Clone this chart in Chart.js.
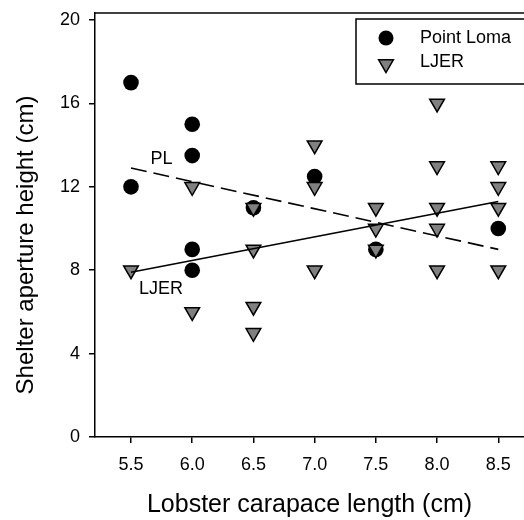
<!DOCTYPE html>
<html>
<head>
<meta charset="utf-8">
<script src="https://cdn.jsdelivr.net/npm/chart.js@4.4.1/dist/chart.umd.min.js"></script>
<style>
  html, body { margin: 0; padding: 0; background: #fff; overflow: hidden; }
  canvas { display: block; }
</style>
</head>
<body>
<!-- a bit wider than the window: the right edge of the frame is cut off, as in the figure -->
<canvas id="chart" width="534" height="520"></canvas>
<script>
// values
const xTicks = [5.5, 6.0, 6.5, 7.0, 7.5, 8.0, 8.5];
const yTicks = [0, 4, 8, 12, 16, 20];

const plX = [5.5, 5.5, 6.0, 6.0, 6.0, 6.0, 6.5, 7.0, 7.5, 8.5];
const plY = [17, 12, 15, 13.5, 9, 8, 11, 12.5, 9, 10];

const ljerX = [5.5, 6.0, 6.0, 6.5, 6.5, 6.5, 6.5, 7.0, 7.0, 7.0, 7.5, 7.5, 7.5, 8.0, 8.0, 8.0, 8.0, 8.0, 8.5, 8.5, 8.5, 8.5];
const ljerY = [8, 12, 6, 11, 9, 6.25, 5, 14, 12, 8, 11, 10, 9, 16, 13, 11, 10, 8, 13, 12, 11, 8];

// fitted lines (end points)
const plFitX = [5.5, 8.5];
const plFitY = [12.9, 9.0];
const ljerFitX = [5.5, 8.5];
const ljerFitY = [7.9, 11.3];

const FONT = "'Liberation Sans', Arial, sans-serif";

function pts(xs, ys) {
    return xs.map((x, i) => ({ x: x, y: ys[i] }));
}

// top frame line, y title, "PL"/"LJER" tags and the boxed legend
const extras = {
    id: 'extras',
    afterDraw(chart) {
        const ctx = chart.ctx;
        const area = chart.chartArea;
        const xs = chart.scales.x, ys = chart.scales.y;
        ctx.save();
        ctx.strokeStyle = '#000';
        ctx.lineWidth = 1.5;
        ctx.beginPath();
        ctx.moveTo(area.left, area.top);
        ctx.lineTo(chart.width, area.top);
        ctx.stroke();

        ctx.fillStyle = '#000';
        ctx.textBaseline = 'middle';
        ctx.textAlign = 'center';

        ctx.save();
        ctx.translate(26, 245);
        ctx.rotate(-Math.PI / 2);
        ctx.font = '24px ' + FONT;
        ctx.fillText('Shelter aperture height (cm)', 0, 0);
        ctx.restore();

        ctx.font = '18px ' + FONT;
        ctx.fillText('PL', xs.getPixelForValue(5.75), ys.getPixelForValue(13.35));
        ctx.fillText('LJER', xs.getPixelForValue(5.745), ys.getPixelForValue(7.1));

        // legend
        ctx.strokeRect(356, 19, 190, 65);
        ctx.beginPath();
        ctx.arc(386, 38, 7.5, 0, Math.PI * 2);
        ctx.fill();
        ctx.fillStyle = '#808080';
        Chart.helpers.drawPoint(ctx, {
            pointStyle: 'triangle', rotation: 180, radius: 8.5, borderWidth: 1.5
        }, 386, 64);
        ctx.textAlign = 'left';
        ctx.fillStyle = '#000';
        ctx.fillText('Point Loma', 420, 38);
        ctx.fillText('LJER', 420, 62);
        ctx.restore();
    }
};

new Chart(document.getElementById('chart'), {
    type: 'scatter',
    data: {
        datasets: [
            {
                label: 'Point Loma',
                data: pts(plX, plY),
                pointStyle: 'circle',
                pointRadius: 7.8,
                pointHoverRadius: 7.8,
                backgroundColor: '#000',
                borderColor: '#000',
                borderWidth: 0,
                order: 3
            },
            {
                label: 'LJER',
                data: pts(ljerX, ljerY),
                pointStyle: 'triangle',
                rotation: 180,
                pointRadius: 8.5,
                pointHoverRadius: 8.5,
                backgroundColor: '#808080',
                borderColor: '#000',
                borderWidth: 1.5,
                order: 2
            },
            {
                label: 'PL fit',
                data: pts(plFitX, plFitY),
                showLine: true,
                pointRadius: 0,
                borderColor: '#000',
                borderWidth: 1.6,
                borderDash: [16, 7],
                order: 1
            },
            {
                label: 'LJER fit',
                data: pts(ljerFitX, ljerFitY),
                showLine: true,
                pointRadius: 0,
                borderColor: '#000',
                borderWidth: 1.6,
                order: 1
            }
        ]
    },
    options: {
        responsive: false,
        animation: false,
        events: [],
        layout: { padding: { top: 13, right: 0, left: 0, bottom: 0 } },
        plugins: {
            legend: { display: false },
            tooltip: { enabled: false }
        },
        scales: {
            x: {
                type: 'linear',
                min: 5.206,
                max: 8.71,
                afterBuildTicks: (s) => { s.ticks = xTicks.map(v => ({ value: v })); },
                afterFit: (s) => {
                    s.height = 83;
                    s.paddingLeft = 0;
                    s.paddingRight = 0;
                },
                grid: { drawOnChartArea: false, drawTicks: true, tickLength: 6, color: '#000', lineWidth: 1.5 },
                border: { color: '#000', width: 1.5 },
                ticks: {
                    color: '#000',
                    padding: 11,
                    font: { family: FONT, size: 18 },
                    callback: (v) => Number(v).toFixed(1)
                },
                title: {
                    display: true,
                    text: 'Lobster carapace length (cm)',
                    color: '#000',
                    font: { family: FONT, size: 25 },
                    padding: { top: 0, bottom: 0 }
                }
            },
            y: {
                type: 'linear',
                min: 0,
                max: 20.34,
                afterBuildTicks: (s) => { s.ticks = yTicks.map(v => ({ value: v })); },
                afterFit: (s) => {
                    s.width = 95;
                    s.paddingTop = 0;
                    s.paddingBottom = 0;
                },
                grid: { drawOnChartArea: false, drawTicks: true, tickLength: 6, color: '#000', lineWidth: 1.5 },
                border: { color: '#000', width: 1.5 },
                ticks: {
                    color: '#000',
                    padding: 9,
                    font: { family: FONT, size: 18 },
                    callback: (v) => String(v)
                }
            }
        }
    },
    plugins: [extras]
});
</script>
</body>
</html>
